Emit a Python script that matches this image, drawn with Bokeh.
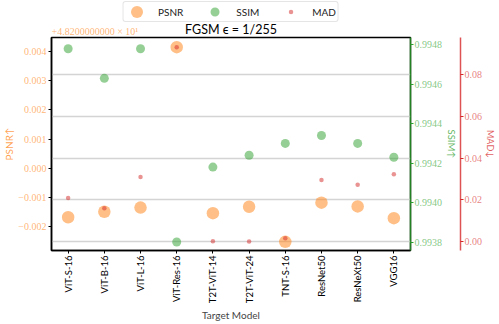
from math import pi
import numpy as np
from bokeh.plotting import figure
from bokeh.layouts import column
from bokeh.models import (Range1d, LinearAxis, FixedTicker, CustomJSTickFormatter,
                          Grid, Legend, LegendItem, Label, ColumnDataSource)
from bokeh.embed import file_html
from bokeh.resources import INLINE

# ---------------- data ----------------
models = ["ViT-S-16", "ViT-B-16", "ViT-L-16", "ViT-Res-16", "T2T-ViT-14",
          "T2T-ViT-24", "TNT-S-16", "ResNet50", "ResNeXt50", "VGG16"]
psnr_base = 48.2
psnr = [48.19833, 48.19852, 48.19866, 48.20414, 48.19847,
        48.19869, 48.19749, 48.19883, 48.19870, 48.19830]
ssim = [0.99478, 0.99463, 0.99478, 0.99380, 0.99418,
        0.99424, 0.99430, 0.99434, 0.99430, 0.99423]
mad = [0.0209, 0.0160, 0.0309, 0.0928, 0.0003,
       0.0002, 0.0017, 0.0295, 0.0273, 0.0323]

psnr_ticks = [-0.002, -0.001, 0.0, 0.001, 0.002, 0.003, 0.004]
ssim_ticks = [0.9938, 0.9940, 0.9942, 0.9944, 0.9946, 0.9948]
mad_ticks = [0.0, 0.02, 0.04, 0.06, 0.08]
offset_text = "+4.8200000000 \u00d7 10\u00b9"
title_text = "FGSM \u03f5 = 1/255"

# ---------------- style / layout ----------------
ORANGE = "#ff7f0e"
GREEN = "#2ca02c"
RED = "#d62728"
SANS = "Lato"
SERIF = "Liberation Serif"

W = 499
H1 = 36            # header (legend + title row)
H2 = 288           # main plot
BL, BR, BT, BB = 49, 84, 1, 71

src = ColumnDataSource(dict(
    x=list(range(len(models))),
    psnr_off=[v - psnr_base for v in psnr],
    ssim=ssim,
    mad=mad,
))

# ================= main plot =================
x_rng = Range1d(-0.46, len(models) - 1 + 0.46)
y_rng = Range1d(-0.002805, 0.00447)

p = figure(width=W, height=H2, output_backend="svg", toolbar_location=None,
           x_range=x_rng, y_range=y_rng,
           min_border_left=BL, min_border_right=BR, min_border_top=BT, min_border_bottom=BB)
p.extra_y_ranges = {"ssim": Range1d(0.993757, 0.994837), "mad": Range1d(-0.0041, 0.0975)}
p.outline_line_color = "black"
p.outline_line_width = 1.5
p.xgrid.visible = False
p.ygrid.visible = False

xa = p.xaxis[0]
xa.ticker = FixedTicker(ticks=list(range(len(models))))
xa.formatter = CustomJSTickFormatter(args=dict(names=models),
                                     code="return names[Math.round(tick)];")
xa.major_label_orientation = pi / 2
xa.major_label_text_font = SANS
xa.major_label_text_font_size = "9.5px"
xa.major_label_text_color = "black"
xa.major_label_standoff = 2
xa.axis_label = "Target Model"
xa.axis_label_text_font = SANS
xa.axis_label_text_font_size = "10px"
xa.axis_label_text_font_style = "normal"
xa.axis_label_standoff = 3
xa.major_tick_out = 3
xa.major_tick_in = 0
xa.minor_tick_line_color = None
xa.axis_line_color = "black"
xa.axis_line_width = 1.5

ya = p.yaxis[0]
ya.ticker = FixedTicker(ticks=psnr_ticks)
ya.formatter = CustomJSTickFormatter(
    code="return (tick < -1e-12 ? '\\u2212' : '') + Math.abs(tick).toFixed(3);")
ya.major_label_text_font = SERIF
ya.major_label_text_font_size = "10px"
ya.major_label_text_color = ORANGE
ya.major_label_text_alpha = 0.6
ya.major_label_standoff = 2
ya.major_tick_out = 3
ya.major_tick_in = 0
ya.minor_tick_line_color = None
ya.axis_line_color = "black"
ya.axis_line_width = 1.5
ya.axis_label = "PSNR\u2191"
ya.axis_label_text_font = SANS
ya.axis_label_text_font_size = "10px"
ya.axis_label_text_font_style = "normal"
ya.axis_label_text_color = ORANGE
ya.axis_label_text_alpha = 0.75
ya.axis_label_standoff = 0

ssim_axis = LinearAxis(y_range_name="ssim", ticker=FixedTicker(ticks=ssim_ticks),
                       formatter=CustomJSTickFormatter(code="return tick.toFixed(4);"),
                       axis_label="SSIM\u2191")
mad_axis = LinearAxis(y_range_name="mad", ticker=FixedTicker(ticks=mad_ticks),
                      formatter=CustomJSTickFormatter(code="return tick.toFixed(2);"),
                      axis_label="MAD\u2193")
for ax, col in ((ssim_axis, GREEN), (mad_axis, RED)):
    ax.axis_line_color = col
    ax.axis_line_width = 1.5
    ax.axis_line_alpha = 0.8
    ax.major_tick_line_color = col
    ax.major_tick_out = 3
    ax.major_tick_in = 0
    ax.minor_tick_line_color = None
    ax.major_label_text_font = SERIF
    ax.major_label_text_font_size = "10px"
    ax.major_label_text_color = col
    ax.major_label_text_alpha = 0.6
    ax.major_label_standoff = 1
    ax.axis_label_text_font = SANS
    ax.axis_label_text_font_size = "9.5px"
    ax.axis_label_text_font_style = "normal"
    ax.axis_label_text_color = col
    ax.axis_label_text_alpha = 0.75
    ax.axis_label_standoff = 1
mad_axis.axis_label_standoff = 0
mad_axis.axis_label_text_font_size = "9px"
p.add_layout(ssim_axis, "right")
p.add_layout(mad_axis, "right")

grid = Grid(dimension=1, ticker=mad_axis.ticker, y_range_name="mad",
            grid_line_color="#d4d4d4", grid_line_width=1.3)
p.add_layout(grid)

p.scatter("x", "psnr_off", source=src, size=12.5, fill_color=ORANGE,
          fill_alpha=0.5, line_color=None)
p.scatter("x", "ssim", source=src, y_range_name="ssim", size=9,
          fill_color=GREEN, fill_alpha=0.5, line_color=None)
p.scatter("x", "mad", source=src, y_range_name="mad", size=4.5,
          fill_color=RED, fill_alpha=0.5, line_color=None)

# ================= header: legend, title, offset text =================
h = figure(width=W, height=H1, output_backend="svg", toolbar_location=None,
           x_range=Range1d(0, 1), y_range=Range1d(H1, 0),
           min_border=0, x_axis_type=None, y_axis_type=None)
h.outline_line_color = None
h.xgrid.visible = False
h.ygrid.visible = False

dummy = ColumnDataSource(dict(x=[np.nan], y=[np.nan]))
lr = []
for col, lw in ((ORANGE, 0), (GREEN, 3), (RED, 7.5)):
    lr.append(h.ellipse("x", "y", source=dummy, width=12, height=12,
                        width_units="screen", height_units="screen",
                        fill_color=col, fill_alpha=0.5,
                        line_color="white" if lw else None, line_width=max(lw, 1)))
legend = Legend(items=[LegendItem(label="PSNR", renderers=[lr[0]]),
                       LegendItem(label="SSIM", renderers=[lr[1]]),
                       LegendItem(label="MAD", renderers=[lr[2]])],
                orientation="horizontal", location="top_center",
                glyph_width=22, glyph_height=15, label_height=13,
                label_text_font=SANS, label_text_font_size="10px", label_text_color="#222222",
                label_standoff=11, spacing=20, padding=2, margin=1,
                border_line_color="#cccccc", border_line_width=1)
if "border_radius" in Legend.properties():
    legend.border_radius = 3
h.add_layout(legend)

h.add_layout(Label(x=0.5, y=H1, text=title_text, text_font=SANS,
                   text_font_size="12.5px", text_color="black",
                   text_align="center", text_baseline="bottom"))
h.add_layout(Label(x=0, y=H1, text=offset_text, text_font=SERIF,
                   text_font_size="10px", text_color=ORANGE, text_alpha=0.6,
                   text_align="left", text_baseline="bottom"))

layout = column(h, p, spacing=0)
open("out.html", "w").write(file_html(layout, INLINE))
